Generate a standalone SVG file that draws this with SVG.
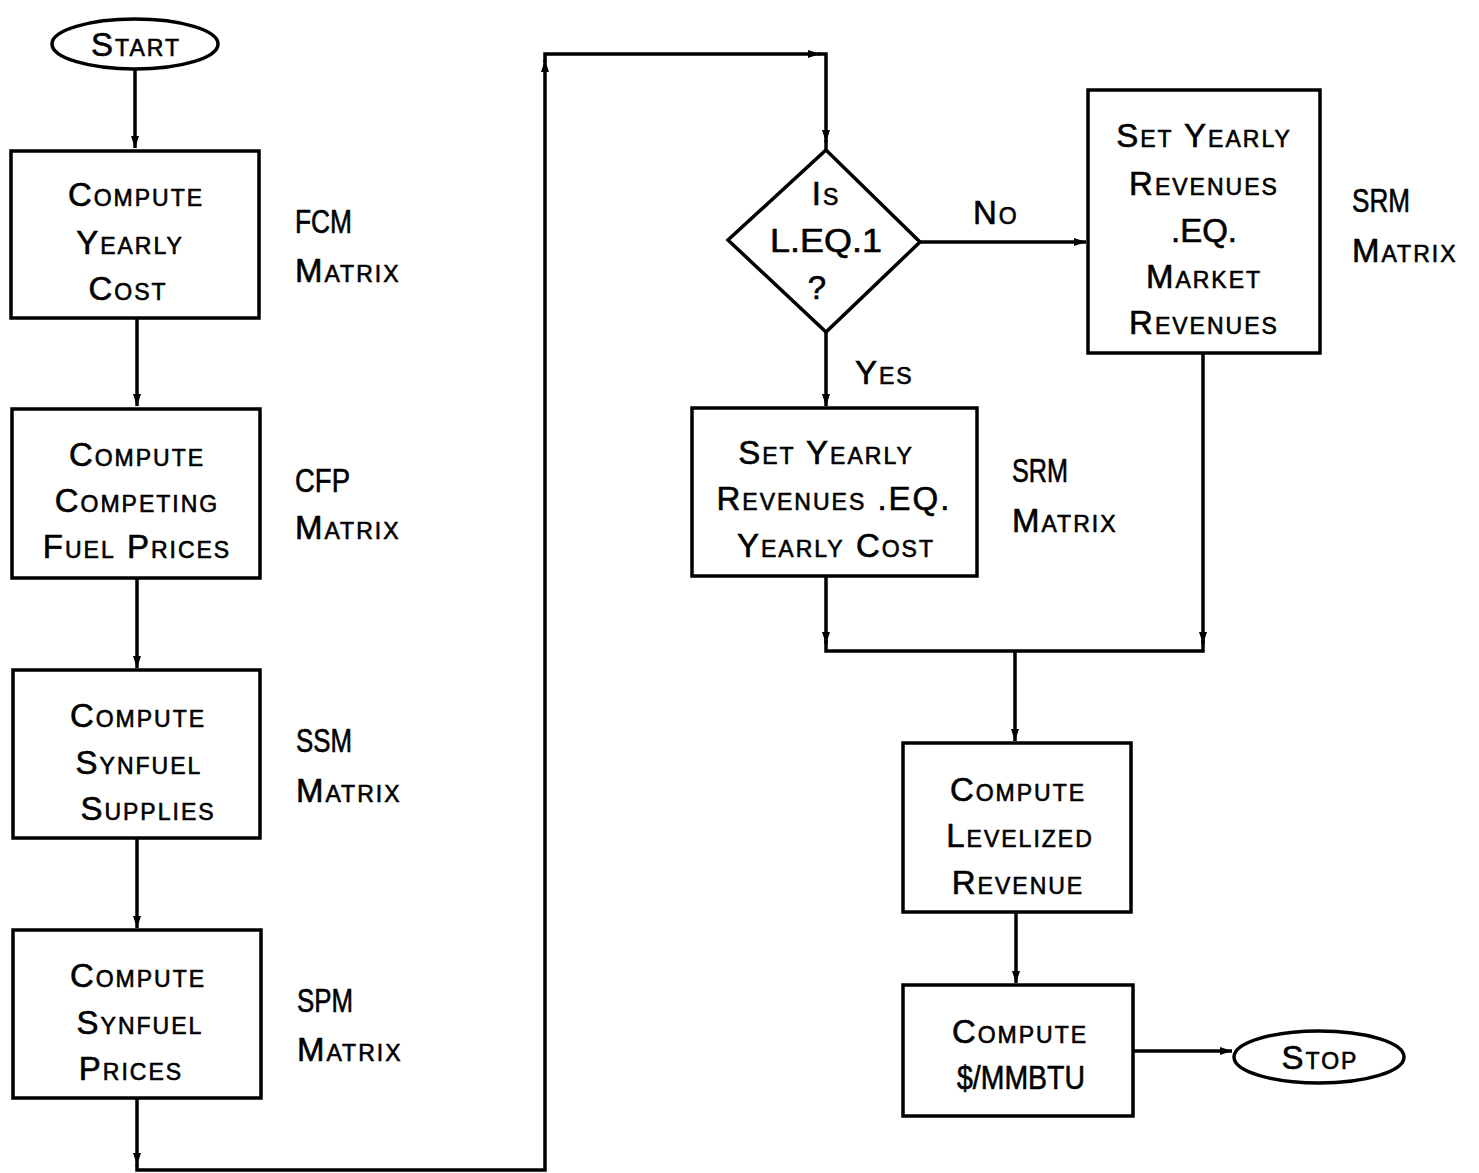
<svg xmlns="http://www.w3.org/2000/svg" width="1479" height="1173" viewBox="0 0 1479 1173">
<style>
  .shape { fill: #ffffff; stroke: #000000; stroke-width: 3.5; }
  .conn { fill: none; stroke: #000000; stroke-width: 3.5; stroke-linejoin: miter; }
  text { font-family: "Liberation Sans", "DejaVu Sans", sans-serif; font-size: 33px; font-variant: small-caps; letter-spacing: 2px; fill: #000000; stroke: #000000; stroke-width: 0.6; }
  .c { text-anchor: middle; }
  .l { text-anchor: start; }
  .caps { letter-spacing: 0px; }
</style>
<defs>
  <marker id="ah" viewBox="0 0 12 8" refX="12" refY="4" markerWidth="12" markerHeight="8" markerUnits="userSpaceOnUse" orient="auto">
    <path d="M0,0 L12,4 L0,8 z" fill="#000000"/>
  </marker>
</defs>
<rect width="1479" height="1173" fill="#ffffff"/>

<g id="connectors">
  <path class="conn" d="M135,70 V148" marker-end="url(#ah)"/>
  <path class="conn" d="M137,318 V406" marker-end="url(#ah)"/>
  <path class="conn" d="M137,578 V668" marker-end="url(#ah)"/>
  <path class="conn" d="M137,838 V928" marker-end="url(#ah)"/>
  <path class="conn" d="M137,1098 V1165" marker-end="url(#ah)"/>
  <path class="conn" d="M137,1164 V1170 H545 V60" marker-end="url(#ah)"/>
  <path class="conn" d="M545,62 V54 H820" marker-end="url(#ah)"/>
  <path class="conn" d="M818,54 H826 V142" marker-end="url(#ah)"/>
  <path class="conn" d="M826,140 V150"/>
  <path class="conn" d="M920,242 H1086" marker-end="url(#ah)"/>
  <path class="conn" d="M826,332 V406" marker-end="url(#ah)"/>
  <path class="conn" d="M826,576 V644" marker-end="url(#ah)"/>
  <path class="conn" d="M1203,353 V644" marker-end="url(#ah)"/>
  <path class="conn" d="M826,640 V651 H1203 V640"/>
  <path class="conn" d="M1015,651 V741" marker-end="url(#ah)"/>
  <path class="conn" d="M1016,912 V983" marker-end="url(#ah)"/>
  <path class="conn" d="M1133,1051 H1232" marker-end="url(#ah)"/>
</g>

<g id="start">
  <ellipse class="shape" cx="135" cy="44" rx="83" ry="25"/>
  <text class="c" x="136" y="56">Start</text>
</g>

<g id="compute-yearly-cost">
  <rect class="shape" x="11" y="151" width="248" height="167"/>
  <text class="c" x="136" y="206">Compute</text>
  <text class="c" x="130" y="254">Yearly</text>
  <text class="c" x="128" y="300">Cost</text>
</g>
<g id="label-fcm">
  <text class="l caps" x="295" y="233" textLength="57" lengthAdjust="spacingAndGlyphs">FCM</text>
  <text class="l" x="295" y="282">Matrix</text>
</g>

<g id="compute-competing-fuel-prices">
  <rect class="shape" x="12" y="409" width="248" height="169"/>
  <text class="c" x="137" y="466">Compute</text>
  <text class="c" x="137" y="512">Competing</text>
  <text class="c" x="137" y="558">Fuel Prices</text>
</g>
<g id="label-cfp">
  <text class="l caps" x="295" y="492" textLength="55" lengthAdjust="spacingAndGlyphs">CFP</text>
  <text class="l" x="295" y="539">Matrix</text>
</g>

<g id="compute-synfuel-supplies">
  <rect class="shape" x="13" y="670" width="247" height="168"/>
  <text class="c" x="138" y="727">Compute</text>
  <text class="c" x="139" y="774">Synfuel</text>
  <text class="c" x="148" y="820">Supplies</text>
</g>
<g id="label-ssm">
  <text class="l caps" x="296" y="752" textLength="56" lengthAdjust="spacingAndGlyphs">SSM</text>
  <text class="l" x="296" y="802">Matrix</text>
</g>

<g id="compute-synfuel-prices">
  <rect class="shape" x="13" y="930" width="248" height="168"/>
  <text class="c" x="138" y="987">Compute</text>
  <text class="c" x="140" y="1034">Synfuel</text>
  <text class="c" x="131" y="1080">Prices</text>
</g>
<g id="label-spm">
  <text class="l caps" x="297" y="1012" textLength="56" lengthAdjust="spacingAndGlyphs">SPM</text>
  <text class="l" x="297" y="1061">Matrix</text>
</g>

<g id="decision">
  <polygon class="shape" points="826,150 920,242 826,332 728,240"/>
  <text class="c" x="826" y="205">Is</text>
  <text class="c caps" x="826" y="252" textLength="112" lengthAdjust="spacingAndGlyphs">L.EQ.1</text>
  <text class="c" x="818" y="299">?</text>
</g>
<text class="l" x="973" y="224">No</text>
<text class="l" x="855" y="384">Yes</text>

<g id="set-market-revenues">
  <rect class="shape" x="1088" y="90" width="232" height="263"/>
  <text class="c" x="1204" y="147">Set Yearly</text>
  <text class="c" x="1204" y="195">Revenues</text>
  <text class="c caps" x="1204" y="242">.EQ.</text>
  <text class="c" x="1204" y="288">Market</text>
  <text class="c" x="1204" y="334">Revenues</text>
</g>
<g id="label-srm-1">
  <text class="l caps" x="1352" y="212" textLength="58" lengthAdjust="spacingAndGlyphs">SRM</text>
  <text class="l" x="1352" y="262">Matrix</text>
</g>

<g id="set-yearly-cost">
  <rect class="shape" x="692" y="408" width="285" height="168"/>
  <text class="c" x="826" y="464">Set Yearly</text>
  <text class="c" x="834" y="510">Revenues .EQ.</text>
  <text class="c" x="836" y="557">Yearly Cost</text>
</g>
<g id="label-srm-2">
  <text class="l caps" x="1012" y="482" textLength="56" lengthAdjust="spacingAndGlyphs">SRM</text>
  <text class="l" x="1012" y="532">Matrix</text>
</g>

<g id="compute-levelized-revenue">
  <rect class="shape" x="903" y="743" width="228" height="169"/>
  <text class="c" x="1018" y="801">Compute</text>
  <text class="c" x="1020" y="847">Levelized</text>
  <text class="c" x="1018" y="894">Revenue</text>
</g>

<g id="compute-mmbtu">
  <rect class="shape" x="903" y="985" width="230" height="131"/>
  <text class="c" x="1020" y="1043">Compute</text>
  <text class="c caps" x="1021" y="1089" textLength="128" lengthAdjust="spacingAndGlyphs">$/MMBTU</text>
</g>

<g id="stop">
  <ellipse class="shape" cx="1319" cy="1057" rx="85" ry="26"/>
  <text class="c" x="1320" y="1069">Stop</text>
</g>
</svg>
